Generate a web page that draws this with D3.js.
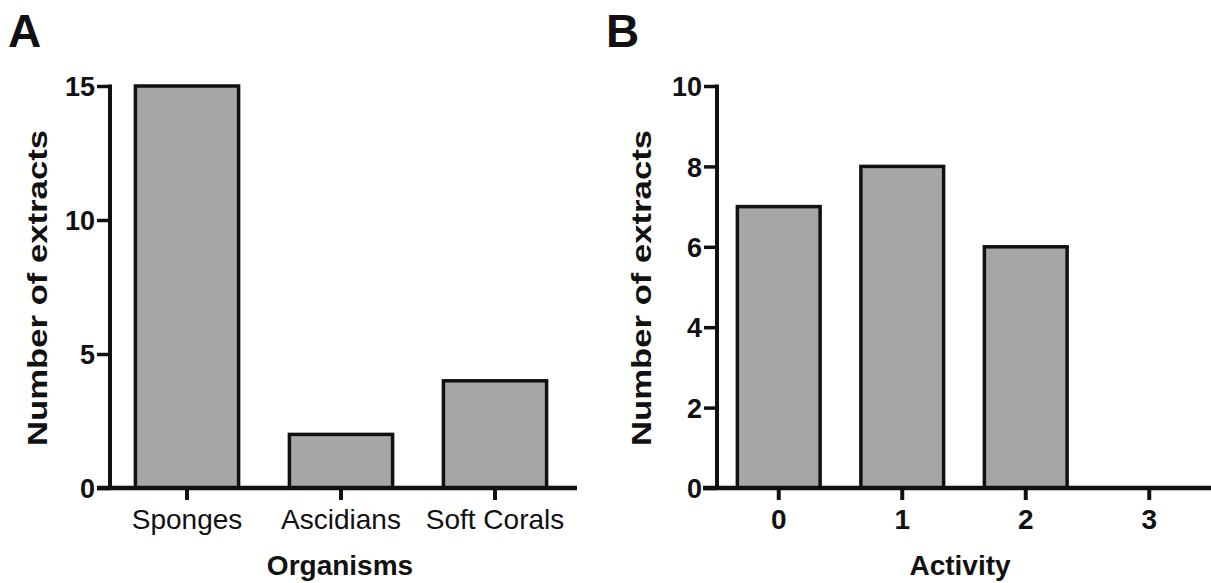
<!DOCTYPE html>
<html><head><meta charset="utf-8">
<script src="https://cdn.jsdelivr.net/npm/d3@7"></script>
<style>body{margin:0;background:#fff}svg{display:block}text{font-family:"Liberation Sans",Arial,sans-serif;fill:#111}</style>
</head><body><svg id="c" width="1211" height="583"></svg>
<script>
// Panel A data
const organisms = ["Sponges", "Ascidians", "Soft Corals"];
const organismCounts = [15, 2, 4];
const yTicksA = [0, 5, 10, 15];
// Panel B data
const activity = ["0", "1", "2", "3"];
const activityCounts = [7, 8, 6, 0];
const yTicksB = [0, 2, 4, 6, 8, 10];

const svg = d3.select("#c");
const barFill = "#a6a6a6";
const ink = "#111";

function panel(cfg) {
  const g = svg.append("g");
  const x = d3.scaleBand().domain(cfg.cats).range(cfg.xRange).paddingInner(0.33).paddingOuter(0.165);
  const y = d3.scaleLinear().domain([0, cfg.yMax]).range([488, 86]);
  // bars
  g.selectAll("rect.bar").data(cfg.cats.map((c, i) => ({c, v: cfg.vals[i]})).filter(d => d.v > 0))
    .enter().append("rect").attr("class", "bar")
    .attr("x", d => x(d.c)).attr("width", x.bandwidth())
    .attr("y", d => y(d.v)).attr("height", d => y(0) - y(d.v))
    .attr("fill", barFill).attr("stroke", ink).attr("stroke-width", 3.5);
  // y axis
  const ya = g.append("g").attr("transform", `translate(${cfg.xRange[0]},0)`)
    .call(d3.axisLeft(y).tickValues(cfg.yTicks).tickSize(13).tickPadding(2).tickSizeOuter(0));
  ya.select(".domain").attr("stroke", ink).attr("stroke-width", 4).attr("d", `M0,${y(0)+2}V${y(cfg.yMax)-1.5}`);
  ya.selectAll(".tick line").attr("stroke", ink).attr("stroke-width", 3.5);
  ya.selectAll(".tick text").attr("font-size", 27).attr("font-weight", "bold").attr("fill", ink)
    .attr("dy", "0.36em");
  // x axis
  const xa = g.append("g").attr("transform", `translate(0,${y(0)})`)
    .call(d3.axisBottom(x).tickSize(12).tickPadding(9).tickSizeOuter(0));
  xa.select(".domain").attr("stroke", ink).attr("stroke-width", 4.5).attr("d", `M${cfg.xLine[0]},0H${cfg.xLine[1]}`);
  xa.selectAll(".tick line").attr("stroke", ink).attr("stroke-width", 4);
  xa.selectAll(".tick text").attr("font-size", cfg.catSize).attr("font-weight", cfg.catWeight).attr("fill", ink);
  // axis titles
  g.append("text").attr("x", cfg.titleX).attr("y", 575).attr("text-anchor", "middle")
    .attr("font-size", 28).attr("font-weight", "bold").text(cfg.xTitle);
  g.append("text").attr("transform", `translate(${cfg.yTitleX},${288}) rotate(-90)`)
    .attr("text-anchor", "middle").attr("font-size", 27).attr("font-weight", "bold")
    .attr("textLength", 316).attr("lengthAdjust", "spacingAndGlyphs").text("Number of extracts");
  // panel letter
  g.append("text").attr("x", cfg.letterX).attr("y", 47).attr("font-size", 46).attr("font-weight", "bold").text(cfg.letter);
}

panel({cats: organisms, vals: organismCounts, yTicks: yTicksA, yMax: 15, xRange: [110, 572], xLine: [97, 577],
  catSize: 28, catWeight: "normal", xTitle: "Organisms", titleX: 340, yTitleX: 47, letter: "A", letterX: 8});
panel({cats: activity, vals: activityCounts, yTicks: yTicksB, yMax: 10, xRange: [717, 1211], xLine: [703, 1211],
  catSize: 28, catWeight: "bold", xTitle: "Activity", titleX: 960, yTitleX: 651, letter: "B", letterX: 606});
</script></body></html>
